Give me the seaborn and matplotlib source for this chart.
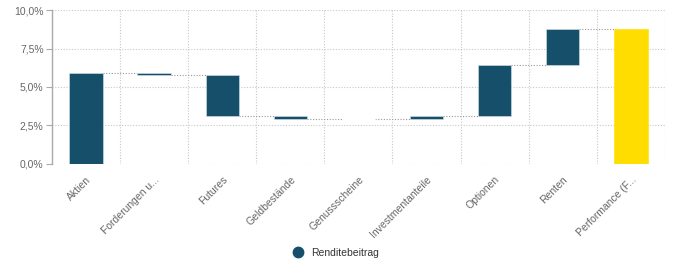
import numpy as np
import pandas as pd
import matplotlib
matplotlib.use("Agg")
import matplotlib.pyplot as plt
from matplotlib.lines import Line2D
from matplotlib.ticker import FuncFormatter, FixedLocator
import seaborn as sns

categories = ["Aktien", "Forderungen u...", "Futures", "Geldbestände", "Genussscheine",
              "Investmentanteile", "Optionen", "Renten", "Performance (F..."]
contributions = [5.89, -0.08, -2.67, -0.21, 0.0, 0.19, 3.31, 2.31]
series_label = "Renditebeitrag"
yticks = [0, 2.5, 5.0, 7.5, 10.0]

total = sum(contributions)
ends = np.cumsum(contributions)
starts = np.concatenate([[0], ends[:-1]])
bottoms = list(starts) + [0.0]
heights = list(contributions) + [total]

df = pd.DataFrame({"cat": categories, "height": heights, "bottom": bottoms})

sns.set_style("white")
plt.rcParams["font.family"] = ["Liberation Sans", "DejaVu Sans"]

fig = plt.figure(figsize=(6.75, 2.64), dpi=100)
ax = fig.add_axes([0.077, 0.379, 0.908, 0.583])

dark = "#164f6a"
yellow = "#ffdd00"

w = 0.49
sns.barplot(data=df, x="cat", y="height", bottom=df["bottom"].values, width=w,
            color=dark, saturation=1, edgecolor="#d6e4ec", linewidth=0.4, ax=ax, zorder=3)
for p in ax.patches[-1:]:
    p.set_facecolor(yellow)
    p.set_edgecolor(yellow)
for p, h in zip(ax.patches, heights):
    if h == 0:
        p.set_edgecolor("white")
        p.set_linewidth(0.8)

# connectors
for i, lv in enumerate(ends):
    ax.hlines(lv, i + w / 2, i + 1 - w / 2, colors="#999999", linestyles=(0, (1, 1.5)),
              linewidth=0.8, zorder=2)

ax.set_xlim(-0.5, len(categories) - 0.5)
ax.set_ylim(0, 10)
ax.yaxis.set_major_locator(FixedLocator(yticks))
ax.yaxis.set_major_formatter(FuncFormatter(lambda v, p: f"{v:.1f}%".replace(".", ",")))
ax.xaxis.set_minor_locator(FixedLocator(np.arange(-0.5, len(categories), 1.0)))
ax.grid(axis="y", which="major", color="#c8c8c8", linestyle=(0, (1, 1.5)), linewidth=0.8, zorder=0)
ax.grid(axis="x", which="minor", color="#c8c8c8", linestyle=(0, (1, 1.5)), linewidth=0.8, zorder=0)
ax.set_axisbelow(True)

for s in ["top", "right", "bottom"]:
    ax.spines[s].set_visible(False)
ax.spines["left"].set_color("#aaaaaa")
ax.spines["left"].set_linewidth(1.0)
ax.tick_params(axis="y", left=True, length=4, color="#aaaaaa", labelsize=7.5, labelcolor="#666666", pad=2)
ax.tick_params(axis="x", bottom=False, which="both", labelsize=7.5, labelcolor="#666666", pad=4)
plt.setp(ax.get_xticklabels(), rotation=45, ha="right", rotation_mode="anchor")
ax.set_xlabel("")
ax.set_ylabel("")

handle = Line2D([], [], marker="o", linestyle="", color=dark, markersize=7.5)
fig.legend([handle], [series_label], loc="center", bbox_to_anchor=(0.494, 0.042),
           frameon=False, fontsize=7.5, handletextpad=0.3, labelcolor="#333333")

fig.savefig("out.png", dpi=100)
